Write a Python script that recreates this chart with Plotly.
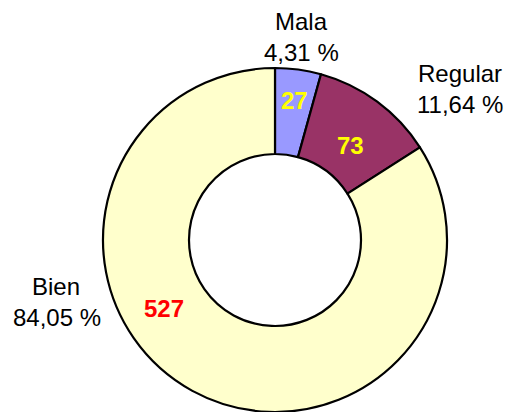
import plotly.graph_objects as go

categories = ["Mala", "Regular", "Bien"]
values = [27, 73, 527]
colors = ["#9999FF", "#993366", "#FFFFCC"]
value_colors = ["#FFFF00", "#FFFF00", "#FF0000"]

# page body has an 8px margin; size the figure to fill the rest of the window
OFF = 8
W, H = 515 - OFF, 412 - OFF
ML, MR, MT, MB = 103 - OFF, 68, 68 - OFF, 0
PW, PH = W - ML - MR, H - MT - MB

# label anchor positions in window pixels (layout, not data)
name_pos = [(301, 22), (460, 73), (56, 286.5)]
pct_pos = [(301, 52.5), (460, 105), (57, 317)]
value_pos = [(294, 101), (350, 145), (164, 308)]


def px(x, y):
    x -= OFF
    y -= OFF
    return (x - ML) / PW, (H - MB - y) / PH


total = sum(values)
fig = go.Figure(
    go.Pie(
        labels=categories,
        values=values,
        hole=0.5,
        sort=False,
        direction="clockwise",
        rotation=0,
        marker=dict(colors=colors, line=dict(color="#000000", width=2.2)),
        textinfo="none",
        hoverinfo="label+value+percent",
        showlegend=False,
        domain=dict(x=[0, 1], y=[0, 1]),
    )
)

annotations = []
for cat, v, vc, npos, ppos, vpos in zip(categories, values, value_colors,
                                        name_pos, pct_pos, value_pos):
    pct = f"{v / total * 100:.2f}".replace(".", ",")
    for txt, pos, col in ((cat, npos, "#000000"), (f"{pct} %", ppos, "#000000"),
                          (f"<b>{v}</b>", vpos, vc)):
        x, y = px(*pos)
        annotations.append(dict(
            x=x, y=y, xref="paper", yref="paper", xanchor="center", yanchor="middle",
            text=txt, showarrow=False,
            font=dict(family="Liberation Sans, Arial", size=24, color=col),
        ))

fig.update_layout(
    width=W, height=H,
    margin=dict(l=ML, r=MR, t=MT, b=MB, pad=0),
    paper_bgcolor="#FFFFFF", plot_bgcolor="#FFFFFF",
    annotations=annotations,
)

fig.write_html("out.html")
